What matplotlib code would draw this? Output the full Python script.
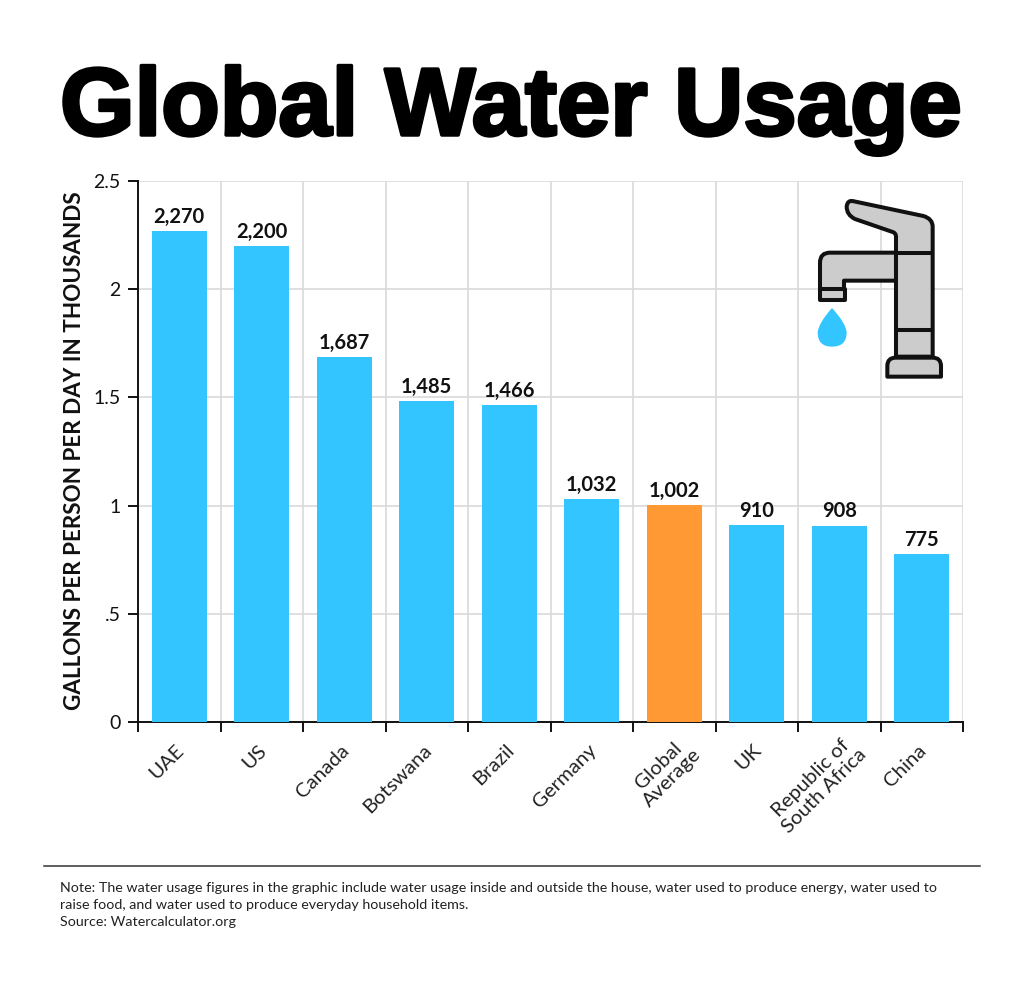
import numpy as np
import matplotlib.pyplot as plt
import matplotlib.patheffects as pe
from matplotlib.path import Path
from matplotlib.patches import PathPatch

plt.rcParams["font.family"] = ["Lato", "DejaVu Sans"]

countries = ["UAE", "US", "Canada", "Botswana", "Brazil", "Germany",
             "Global\nAverage", "UK", "Republic of\nSouth Africa", "China"]
usage = [2270, 2200, 1687, 1485, 1466, 1032, 1002, 910, 908, 775]
ytick_vals = [0, 0.5, 1, 1.5, 2, 2.5]
ytick_labels = ["0", ".5", "1", "1.5", "2", "2.5"]
note_lines = [
    "Note: The water usage figures in the graphic include water usage inside and outside the house, water used to produce energy, water used to",
    "raise food, and water used to produce everyday household items.",
    "Source: Watercalculator.org",
]

BLUE = "#33C5FF"
ORANGE = "#FF9933"
GRID = "#D9D9D9"
W, H = 1024, 983

fig = plt.figure(figsize=(W / 100, H / 100), dpi=100)
ax = fig.add_axes([138 / W, 1 - 722 / H, 825 / W, 541 / H])

x = np.arange(len(countries))
values = np.array(usage) / 1000
colors = [ORANGE if "Average" in c else BLUE for c in countries]
ax.bar(x, values, width=0.665, color=colors, zorder=3)

for xi, v, raw in zip(x, values, usage):
    ax.annotate(f"{raw:,}", (xi, v), xytext=(0, 3), textcoords="offset points",
                ha="center", va="bottom", fontsize=14.5, fontweight="bold", color="#111111", zorder=4)

ax.set_xlim(-0.5, len(countries) - 0.5)
ax.set_ylim(0, 2.5)
ax.set_yticks(ytick_vals, ytick_labels)
ax.set_xticks(np.arange(len(countries) + 1) - 0.5, [""] * (len(countries) + 1))
ax.grid(True, color=GRID, linewidth=1.2, zorder=0)
ax.set_axisbelow(True)
ax.tick_params(axis="y", length=7.5, width=1.4, labelsize=14, pad=5, colors="#111111")
ax.tick_params(axis="x", length=7, width=1.4, colors="#111111")
for side in ["top", "right"]:
    ax.spines[side].set_visible(False)
for side in ["left", "bottom"]:
    ax.spines[side].set_linewidth(1.4)
    ax.spines[side].set_color("#111111")

for xi, name in zip(x, countries):
    # two-line labels sit higher and further right than the single-line ones
    offset = (3.5, -8) if "\n" in name else (-3, -14)
    ax.annotate(name, (xi, 0), xytext=offset, textcoords="offset points",
                rotation=45, rotation_mode="anchor", ha="right", va="top",
                multialignment="center", fontsize=14.7, color="#222222", linespacing=1.1)

fig.text(75 / W, 1 - 451 / H, "GALLONS PER PERSON PER DAY IN THOUSANDS", rotation=90,
         ha="center", va="center", fontsize=16.2, fontweight="bold", color="#111111")

# title, thickened since no heavy grotesque is installed
title = fig.text(511 / W, 1 - 135 / H, "Global Water Usage", ha="center", va="baseline",
                 fontsize=69, fontweight="bold", family="Liberation Sans", color="black")
title.set_path_effects([pe.withStroke(linewidth=2.5, foreground="black")])

# overlay in pixel coordinates for faucet and footer
ov = fig.add_axes([0, 0, 1, 1], zorder=5)
ov.set_xlim(0, W)
ov.set_ylim(H, 0)
ov.axis("off")
ov.patch.set_alpha(0)

ov.plot([44, 980], [866, 866], color="#333333", linewidth=1.1)
for yy, line in zip([888, 905, 922], note_lines):
    ov.text(60, yy, line, fontsize=10.24, va="center", ha="left", color="#222222")


def z(px, py):
    # zoom crop coords to picture pixels
    return (780 + px / 3, 180 + py / 3)


def shape(parts, face="#CCCCCC", closed=True):
    verts, codes = [], []
    for i, part in enumerate(parts):
        if i == 0:
            verts.append(z(*part))
            codes.append(Path.MOVETO)
        elif len(part) == 2:
            verts.append(z(*part))
            codes.append(Path.LINETO)
        else:
            verts += [z(part[0], part[1]), z(part[2], part[3])]
            codes += [Path.CURVE3, Path.CURVE3]
    if closed:
        verts.append(verts[0])
        codes.append(Path.CLOSEPOLY)
    ov.add_patch(PathPatch(Path(verts, codes), facecolor=face, edgecolor="#111111",
                           linewidth=2.9, joinstyle="round", fill=closed))


# spout
shape([(120, 328), (120, 248), (120, 218, 150, 218), (348, 218), (348, 302), (192, 302), (192, 328)])
# nozzle
shape([(120, 328), (195, 328), (195, 360), (120, 360)])
# handle and body
shape([(222, 64), (430, 108), (458, 116, 458, 140), (458, 530), (348, 530), (348, 170),
       (348, 158, 335, 155), (225, 117), (200, 105, 200, 80), (202, 58, 222, 64)])
shape([(348, 218), (458, 218)], closed=False)
shape([(348, 450), (458, 450)], closed=False)
# base
shape([(322, 590), (322, 558), (322, 533, 347, 533), (458, 533), (483, 533, 483, 558), (483, 590)])
# drop
verts = [z(156, 384), z(115, 430), z(113, 457), z(113, 500), z(156, 500),
         z(200, 500), z(200, 457), z(198, 430), z(156, 384)]
codes = [Path.MOVETO, Path.CURVE3, Path.CURVE3, Path.CURVE3, Path.CURVE3,
         Path.CURVE3, Path.CURVE3, Path.CURVE3, Path.CURVE3]
ov.add_patch(PathPatch(Path(verts, codes), facecolor=BLUE, edgecolor="none"))

fig.savefig("out.png", dpi=100, facecolor="white")
